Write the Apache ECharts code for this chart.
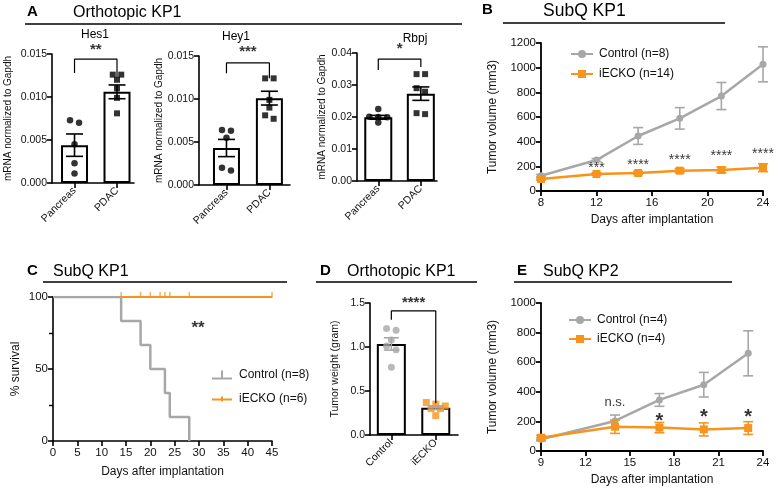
<!DOCTYPE html>
<html><head><meta charset="utf-8">
<script src="https://cdn.jsdelivr.net/npm/echarts@6/dist/echarts.min.js"></script>
<style>html,body{margin:0;padding:0;background:#fff}#c{width:780px;height:490px}</style>
</head><body><div id="c"></div>
<script>
// ================= DATA =================
// Panel A: Orthotopic KP1 qPCR
const aCategories = ['Pancreas', 'PDAC'];
const hes1Pancreas = [0.0073, 0.0070, 0.0045, 0.0023, 0.0011];
const hes1PDAC = [0.0126, 0.0126, 0.0120, 0.0110, 0.0099, 0.0081];
const hes1Mean = [0.0044, 0.0106];
const hes1Sem = [0.0013, 0.0008];
const hes1Bracket = [0.0128, 0.0144, 0.0123];
const hes1Sig = '**';
const hes1SigY = 0.0155;

const hey1Pancreas = [0.0064, 0.0063, 0.0055, 0.0020, 0.0017];
const hey1PDAC = [0.0124, 0.0124, 0.0099, 0.0090, 0.0081, 0.0077];
const hey1Mean = [0.0043, 0.0101];
const hey1Sem = [0.0010, 0.0008];
const hey1Bracket = [0.0130, 0.0142, 0.0124];
const hey1Sig = '***';
const hey1SigY = 0.0155;

const rbpjPancreas = [0.0225, 0.0201, 0.0200, 0.0199, 0.0183];
const rbpjPDAC = [0.0334, 0.0334, 0.0290, 0.0279, 0.0212, 0.0209];
const rbpjMean = [0.0199, 0.0273];
const rbpjSem = [0.0006, 0.0021];
const rbpjBracket = [0.0347, 0.0381, 0.0356];
const rbpjSig = '*';
const rbpjSigY = 0.0413;

// Panel B: SubQ KP1 tumor growth
const bDays = [8, 12, 15, 18, 21, 24];
const bControl = [124, 251, 446, 589, 770, 1027];
const bControlSem = [10, 12, 68, 87, 110, 142];
const bIecko = [97, 138, 146, 165, 170, 189];
const bIeckoSem = [8, 10, 12, 16, 24, 32];
const bSigDays = [12, 15, 18, 21, 24];
const bSigText = ['***', '****', '****', '****', '****'];
const bSigY = [188, 212, 253, 285, 301];

// Panel C: survival
const cControlDays = [0, 14, 18, 20, 23, 24, 28];
const cControlPct = [100, 83.3, 66.7, 50, 33.3, 16.7, 0];
const cIeckoDays = [0, 45];
const cIeckoPct = [100, 100];
const cCensorDays = [14, 18, 20, 22, 23, 24, 28, 45];
const cSig = '**';
const cSigPos = [29.8, 78];

// Panel D: Orthotopic KP1 tumor weight
const dCategories = ['Control', 'iECKO'];
const dControl = [1.19, 1.21, 1.08, 1.01, 0.97, 0.77];
const dIecko = [0.35, 0.37, 0.33, 0.30, 0.30, 0.22];
const dMean = [1.035, 0.31];
const dSem = [0.07, 0.02];
const dBracket = [1.31, 1.41, 0.36];
const dSig = '****';
const dSigY = 1.50;

// Panel E: SubQ KP2 tumor growth
const eDays = [9, 14, 17, 20, 23];
const eControl = [79, 203, 345, 448, 660];
const eControlSem = [10, 40, 43, 83, 152];
const eIecko = [90, 164, 158, 146, 155];
const eIeckoSem = [15, 45, 35, 44, 43];
const eSigDays = [14, 17, 20, 23];
const eSigText = ['n.s.', '*', '*', '*'];
const eSigY = [326, 200, 226, 226];

// ================= STYLE =================
const GRAY = '#A7A7A7', ORANGE = '#F7941D', BLACK = '#000', TXT = '#111';
const FONT = '"Liberation Sans", Arial, Helvetica, sans-serif';

const grids = [], xAxes = [], yAxes = [], series = [], graphics = [], legends = [];

function axisBase(lw) {
  return {
    axisLine: { show: true, onZero: false, lineStyle: { color: BLACK, width: lw } },
    axisTick: { show: true, inside: false, length: 5, lineStyle: { color: BLACK, width: lw } },
    splitLine: { show: false },
    nameTextStyle: { fontFamily: FONT, color: TXT },
  };
}

// rows of points at (nearly) the same height are spread symmetrically
function swarm(vals, pxPerY, pxPerX, sym) {
  const order = vals.map((v, i) => i).sort((a, b) => vals[b] - vals[a]);
  const off = new Array(vals.length).fill(0);
  let row = [order[0]];
  const spacing = sym + 2.5;
  const flush = () => {
    const n = row.length;
    row.forEach((k, j) => { off[k] = (j - (n - 1) / 2) * spacing / pxPerX; });
  };
  for (let j = 1; j < order.length; j++) {
    const k = order[j];
    if ((vals[row[0]] - vals[k]) * pxPerY < sym * 0.6) row.push(k);
    else { flush(); row = [k]; }
  }
  flush();
  return off;
}

function errorSeries(gi, pts, color, capW, lw, z) {
  return {
    type: 'custom', xAxisIndex: gi, yAxisIndex: gi, silent: true, z: z || 3,
    encode: { x: 0, y: 1 },
    data: pts,
    renderItem: function (params, api) {
      const x = api.value(0), y = api.value(1), e = api.value(2);
      const top = api.coord([x, y + e]), bot = api.coord([x, y - e]);
      const st = { stroke: color, lineWidth: lw };
      return { type: 'group', children: [
        { type: 'line', shape: { x1: top[0], y1: top[1], x2: bot[0], y2: bot[1] }, style: st },
        { type: 'line', shape: { x1: top[0] - capW / 2, y1: top[1], x2: top[0] + capW / 2, y2: top[1] }, style: st },
        { type: 'line', shape: { x1: bot[0] - capW / 2, y1: bot[1], x2: bot[0] + capW / 2, y2: bot[1] }, style: st },
      ] };
    }
  };
}

function labelSeries(gi, items, fontSizeFn, weightFn) {
  return {
    type: 'scatter', xAxisIndex: gi, yAxisIndex: gi, symbolSize: 0, silent: true, clip: false, z: 6,
    data: items.map(it => ({
      name: it[2], value: [it[0], it[1]],
      label: { fontSize: fontSizeFn(it[2]), fontWeight: weightFn(it[2]) },
    })),
    label: { show: true, position: 'inside', formatter: '{b}', color: BLACK, fontFamily: FONT },
  };
}

function bracketSeries(gi, b) {
  return {
    type: 'line', xAxisIndex: gi, yAxisIndex: gi, silent: true, clip: false, symbol: 'none', z: 5,
    lineStyle: { color: BLACK, width: 1.2 },
    data: [[0, b[0]], [0, b[1]], [1, b[1]], [1, b[2]]],
  };
}

const plainNum = v => String(v);

// ---------- bar + dot panels (A subpanels and D) ----------
function barPanel(cfg) {
  const gi = grids.length;
  const L = cfg.layout;
  grids.push({ left: L.left, top: L.top, width: L.width, height: L.height });
  const xb = axisBase(1.6);
  xAxes.push(Object.assign(xb, {
    type: 'value', gridIndex: gi, min: L.xmin, max: L.xmax,
    axisTick: Object.assign(xb.axisTick, { customValues: [0, 1] }),
    axisLabel: { customValues: [0, 1], formatter: v => cfg.cats[Math.round(v)], rotate: 45,
                 fontSize: L.xFont, color: TXT, fontFamily: FONT, margin: 6 },
  }));
  yAxes.push(Object.assign(axisBase(1.6), {
    type: 'value', gridIndex: gi, min: 0, max: cfg.yMax, interval: cfg.yStep,
    name: cfg.yName, nameLocation: 'middle', nameGap: L.nameGap,
    nameTextStyle: { fontSize: L.nameFont, fontFamily: FONT, color: TXT },
    axisLabel: { formatter: v => v.toFixed(cfg.dec), fontSize: L.yFont, color: TXT, fontFamily: FONT, margin: 5 },
  }));
  series.push({
    type: 'bar', xAxisIndex: gi, yAxisIndex: gi, barWidth: L.barW, silent: true, z: 2,
    data: cfg.mean.map((m, i) => [i, m]),
    itemStyle: { color: '#fff', borderColor: BLACK, borderWidth: 2 },
  });
  series.push(errorSeries(gi, cfg.mean.map((m, i) => [i, m, cfg.sem[i]]), cfg.errColor || BLACK, L.capW, 1.6, 4));
  const pxPerY = L.height / cfg.yMax, pxPerX = L.width / (L.xmax - L.xmin);
  cfg.groups.forEach((vals, i) => {
    const off = swarm(vals, pxPerY, pxPerX, cfg.symSize[i]);
    series.push({
      type: 'scatter', xAxisIndex: gi, yAxisIndex: gi, silent: true, clip: false, z: 3,
      symbol: cfg.symbols[i], symbolSize: cfg.symSize[i],
      itemStyle: { color: cfg.colors[i] },
      data: vals.map((v, k) => [i + off[k], v]),
    });
  });
  series.push(bracketSeries(gi, cfg.bracket));
  series.push(labelSeries(gi, [[0.5, cfg.sigY, cfg.sig]], () => L.sigFont, () => 'bold'));
  return gi;
}

const aLayoutCommon = { xFont: 10.5, yFont: 10.5, nameFont: 10, capW: 17, sigFont: 15 };
barPanel({
  cats: aCategories, groups: [hes1Pancreas, hes1PDAC], mean: hes1Mean, sem: hes1Sem,
  yMax: 0.015, yStep: 0.005, dec: 3, yName: 'mRNA normalized to Gapdh',
  bracket: hes1Bracket, sig: hes1Sig, sigY: hes1SigY,
  symbols: ['circle', 'rect'], symSize: [6.5, 6], colors: [BLACK, BLACK],
  layout: Object.assign({ left: 52, top: 54, width: 82, height: 129, xmin: -0.53, xmax: 1.4, barW: 27, nameGap: 39 }, aLayoutCommon),
});
barPanel({
  cats: aCategories, groups: [hey1Pancreas, hey1PDAC], mean: hey1Mean, sem: hey1Sem,
  yMax: 0.015, yStep: 0.005, dec: 3, yName: 'mRNA normalized to Gapdh',
  bracket: hey1Bracket, sig: hey1Sig, sigY: hey1SigY,
  symbols: ['circle', 'rect'], symSize: [6.5, 6], colors: [BLACK, BLACK],
  layout: Object.assign({ left: 199, top: 56, width: 91, height: 129, xmin: -0.64, xmax: 1.48, barW: 27, nameGap: 32 }, aLayoutCommon),
});
barPanel({
  cats: aCategories, groups: [rbpjPancreas, rbpjPDAC], mean: rbpjMean, sem: rbpjSem,
  yMax: 0.04, yStep: 0.01, dec: 2, yName: 'mRNA normalized to Gapdh',
  bracket: rbpjBracket, sig: rbpjSig, sigY: rbpjSigY,
  symbols: ['circle', 'rect'], symSize: [6.5, 6], colors: [BLACK, BLACK],
  layout: Object.assign({ left: 357, top: 53, width: 80, height: 128, xmin: -0.5, xmax: 1.38, barW: 28, nameGap: 24 }, aLayoutCommon),
});

// ---------- growth curve panels (B, E) ----------
function growthPanel(cfg) {
  const gi = grids.length;
  const L = cfg.layout;
  grids.push({ left: L.left, top: L.top, width: L.width, height: L.height });
  xAxes.push(Object.assign(axisBase(1.8), {
    type: 'value', gridIndex: gi, min: cfg.xMin, max: cfg.xMax, interval: cfg.xStep,
    name: 'Days after implantation', nameLocation: 'middle', nameGap: L.xNameGap,
    nameTextStyle: { fontSize: 12, fontFamily: FONT, color: TXT },
    axisLabel: { fontSize: 11.5, color: TXT, fontFamily: FONT, margin: 6, formatter: plainNum },
  }));
  yAxes.push(Object.assign(axisBase(1.8), {
    type: 'value', gridIndex: gi, min: 0, max: cfg.yMax, interval: 200,
    name: 'Tumor volume (mm3)', nameLocation: 'middle', nameGap: L.yNameGap,
    nameTextStyle: { fontSize: 12, fontFamily: FONT, color: TXT },
    axisLabel: { fontSize: 11.5, color: TXT, fontFamily: FONT, margin: 5, formatter: plainNum },
  }));
  series.push(errorSeries(gi, cfg.days.map((d, i) => [d, cfg.ctrl[i], cfg.ctrlSem[i]]), GRAY, 10, 1.6, 2));
  series.push({
    type: 'line', name: cfg.names[0], xAxisIndex: gi, yAxisIndex: gi, silent: true, z: 3,
    symbol: 'circle', symbolSize: 7, showAllSymbol: true,
    itemStyle: { color: GRAY }, lineStyle: { color: GRAY, width: 2.5 },
    data: cfg.days.map((d, i) => [d, cfg.ctrl[i]]),
  });
  series.push(errorSeries(gi, cfg.days.map((d, i) => [d, cfg.ieck[i], cfg.ieckSem[i]]), ORANGE, 10, 1.6, 4));
  series.push({
    type: 'line', name: cfg.names[1], xAxisIndex: gi, yAxisIndex: gi, silent: true, z: 5,
    symbol: 'rect', symbolSize: 8, showAllSymbol: true,
    itemStyle: { color: ORANGE }, lineStyle: { color: ORANGE, width: 2.5 },
    data: cfg.days.map((d, i) => [d, cfg.ieck[i]]),
  });
  series.push(labelSeries(gi, cfg.sigDays.map((d, i) => [d, cfg.sigY[i], cfg.sigText[i]]), cfg.sigFont, cfg.sigWeight));
  legends.push({
    left: L.legLeft, top: L.legTop, orient: 'vertical', itemWidth: 22, itemHeight: 10, itemGap: L.legGap,
    selectedMode: false, data: cfg.names,
    textStyle: { fontSize: 12, fontFamily: FONT, color: TXT, padding: [0, 0, 0, 1] },
  });
}

growthPanel({
  days: bDays, ctrl: bControl, ctrlSem: bControlSem, ieck: bIecko, ieckSem: bIeckoSem,
  xMin: 8, xMax: 24, xStep: 4, yMax: 1200, names: ['Control (n=8)', 'iECKO (n=14)'],
  sigDays: bSigDays, sigText: bSigText, sigY: bSigY, sigFont: () => 14, sigWeight: () => 'normal',
  layout: { left: 541, top: 43, width: 222, height: 148, xNameGap: 23, yNameGap: 42, legLeft: 565, legTop: 43, legGap: 8 },
});

// ---------- survival panel (C) ----------
(function () {
  const gi = grids.length;
  grids.push({ left: 53, top: 297, width: 219, height: 144 });
  xAxes.push(Object.assign(axisBase(1.6), {
    type: 'value', gridIndex: gi, min: 0, max: 45, interval: 5,
    name: 'Days after implantation', nameLocation: 'middle', nameGap: 25,
    nameTextStyle: { fontSize: 12, fontFamily: FONT, color: TXT },
    axisLabel: { fontSize: 11.5, color: TXT, fontFamily: FONT, margin: 6 },
  }));
  const yb = axisBase(1.6);
  yAxes.push(Object.assign(yb, {
    type: 'value', gridIndex: gi, min: 0, max: 100, interval: 50,
    minorTick: { show: true, splitNumber: 2, length: 4, lineStyle: { color: BLACK, width: 1.4 } },
    name: '% survival', nameLocation: 'middle', nameGap: 31,
    nameTextStyle: { fontSize: 12, fontFamily: FONT, color: TXT },
    axisLabel: { fontSize: 11.5, color: TXT, fontFamily: FONT, margin: 5 },
  }));
  series.push({
    type: 'line', name: 'iECKO (n=6) ', xAxisIndex: gi, yAxisIndex: gi, silent: true, z: 2,
    symbol: 'none', lineStyle: { color: ORANGE, width: 2 }, itemStyle: { color: ORANGE },
    data: cIeckoDays.map((d, i) => [d, cIeckoPct[i]]),
  });
  series.push({
    type: 'scatter', xAxisIndex: gi, yAxisIndex: gi, silent: true, clip: false, z: 3,
    symbol: 'rect', symbolSize: [1.4, 6], symbolOffset: [0, -2], itemStyle: { color: ORANGE },
    data: cCensorDays.map(d => [d, 100]),
  });
  series.push({
    type: 'line', name: 'Control (n=8) ', xAxisIndex: gi, yAxisIndex: gi, silent: true, z: 4,
    step: 'end', symbol: 'none', lineStyle: { color: GRAY, width: 2.5 }, itemStyle: { color: GRAY },
    data: cControlDays.map((d, i) => [d, cControlPct[i]]),
  });
  series.push(labelSeries(gi, [[cSigPos[0], cSigPos[1], cSig]], () => 17, () => 'bold'));
  legends.push({
    left: 207, top: 364, orient: 'vertical', itemWidth: 20, itemHeight: 10, itemGap: 12, selectedMode: false,
    data: [
      { name: 'Control (n=8) ', icon: 'path://M0,8h20v2h-20z M9,1h2v8h-2z', itemStyle: { color: GRAY } },
      { name: 'iECKO (n=6) ', icon: 'path://M0,4h20v2h-20z M9,2h2v5h-2z', itemStyle: { color: ORANGE } },
    ],
    textStyle: { fontSize: 12, fontFamily: FONT, color: TXT, padding: [0, 0, 0, 2] },
  });
})();

// ---------- D ----------
barPanel({
  cats: dCategories, groups: [dControl, dIecko], mean: dMean, sem: dSem,
  yMax: 1.5, yStep: 0.5, dec: 1, yName: 'Tumor weight (gram)', errColor: GRAY,
  bracket: dBracket, sig: dSig, sigY: dSigY,
  symbols: ['circle', 'rect'], symSize: [7, 7], colors: [GRAY, ORANGE],
  layout: { left: 370, top: 303, width: 88, height: 132, xmin: -0.48, xmax: 1.5, barW: 29, nameGap: 29,
            xFont: 10.5, yFont: 10.5, nameFont: 10.5, capW: 15, sigFont: 15 },
});

// ---------- E ----------
growthPanel({
  days: eDays, ctrl: eControl, ctrlSem: eControlSem, ieck: eIecko, ieckSem: eIeckoSem,
  xMin: 9, xMax: 24, xStep: 3, yMax: 1000, names: ['Control (n=4)', 'iECKO (n=4)'],
  sigDays: eSigDays, sigText: eSigText, sigY: eSigY,
  sigFont: t => (t === '*' ? 20 : 13), sigWeight: t => (t === '*' ? 'bold' : 'normal'),
  layout: { left: 541, top: 303, width: 222, height: 148, xNameGap: 23, yNameGap: 42, legLeft: 563, legTop: 309, legGap: 7 },
});

// ---------- headings ----------
function heading(letter, lx, title, tx, ty, tSize, rule) {
  graphics.push({ type: 'text', x: lx, y: ty, style: { text: letter, fontSize: 15, fontWeight: 'bold', fontFamily: FONT, fill: BLACK, verticalAlign: 'middle' } });
  graphics.push({ type: 'text', x: tx, y: ty + 1, style: { text: title, fontSize: tSize, fontFamily: FONT, fill: BLACK, verticalAlign: 'middle' } });
  graphics.push({ type: 'line', shape: { x1: rule[0], y1: rule[1], x2: rule[2], y2: rule[1] }, style: { stroke: BLACK, lineWidth: 1.6 } });
}
heading('A', 27, 'Orthotopic KP1', 73, 12, 16, [25, 24, 462]);
heading('B', 482, 'SubQ KP1', 543, 10, 17.5, [503, 23, 725]);
heading('C', 27, 'SubQ KP1', 53, 271, 16, [43, 282, 287]);
heading('D', 320, 'Orthotopic KP1', 347, 271, 16, [316, 282, 477]);
heading('E', 517, 'SubQ KP2', 543, 271, 16, [514, 282, 732]);
[['Hes1', 95, 35], ['Hey1', 236, 37], ['Rbpj', 415, 39]].forEach(t => {
  graphics.push({ type: 'text', x: t[1], y: t[2], style: { text: t[0], fontSize: 12, fontFamily: FONT, fill: BLACK, align: 'center', verticalAlign: 'middle' } });
});

const chart = echarts.init(document.getElementById('c'), null, { renderer: 'canvas' });
chart.setOption({
  animation: false,
  backgroundColor: '#fff',
  textStyle: { fontFamily: FONT },
  grid: grids, xAxis: xAxes, yAxis: yAxes, series: series, legend: legends, graphic: graphics,
});
</script>
</body></html>
